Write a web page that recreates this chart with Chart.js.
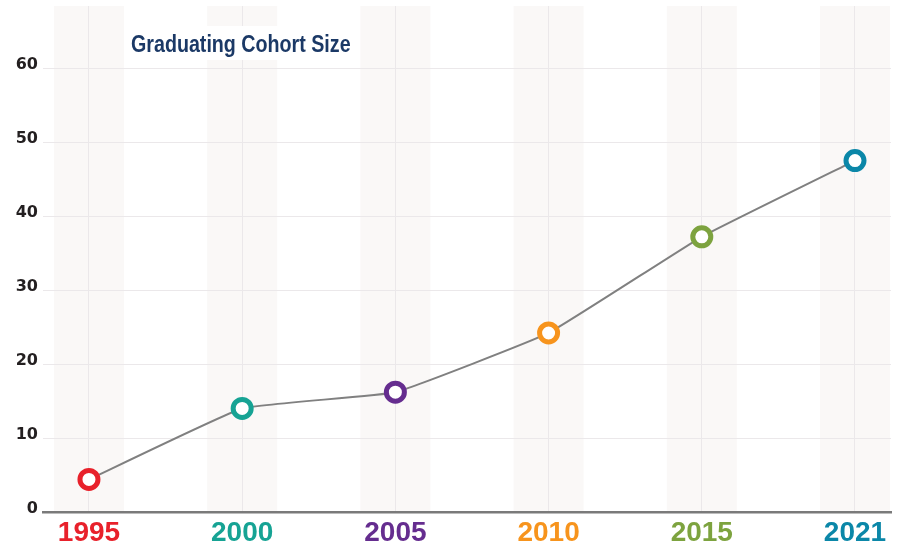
<!DOCTYPE html>
<html>
<head>
<meta charset="utf-8">
<script src="https://cdn.jsdelivr.net/npm/chart.js@4/dist/chart.umd.min.js"></script>
<style>
  html, body { margin: 0; padding: 0; background: #ffffff; overflow: hidden; }
  canvas { display: block; }
</style>
</head>
<body>
<canvas id="chart" width="898" height="546"></canvas>
<script>
// Chart data
const years = ["1995", "2000", "2005", "2010", "2015", "2021"];
const cohortSize = [4.4, 14.0, 16.2, 24.2, 37.2, 47.5];
const yearColors = ["#e8212b", "#16a394", "#652d8f", "#f7941d", "#7da33f", "#0b87a8"];
const yTicks = [0, 10, 20, 30, 40, 50, 60];
const chartTitle = "Graduating Cohort Size";

// Light vertical bands behind each year
const bandPlugin = {
  id: "bands",
  beforeDraw(chart) {
    const { ctx, chartArea, scales } = chart;
    ctx.save();
    ctx.fillStyle = "#faf8f7";
    for (let i = 0; i < years.length; i++) {
      const x = scales.x.getPixelForValue(i);
      ctx.fillRect(x - 35, chartArea.top, 70, chartArea.bottom - chartArea.top);
    }
    ctx.restore();
  }
};

// Title sits inside the plot on a white patch
// no narrow font installed, so squeeze the regular one a bit
const titlePlugin = {
  id: "innerTitle",
  afterDraw(chart) {
    const ctx = chart.ctx;
    ctx.save();
    ctx.font = "bold 23px 'Liberation Sans', Arial, sans-serif";
    const squeeze = 0.855;
    const w = ctx.measureText(chartTitle).width * squeeze;
    ctx.fillStyle = "#ffffff";
    ctx.fillRect(125, 26, w + 12, 34);
    ctx.translate(131, 52);
    ctx.scale(squeeze, 1);
    ctx.fillStyle = "#1b3966";
    ctx.textBaseline = "alphabetic";
    ctx.fillText(chartTitle, 0, 0);
    ctx.restore();
  }
};

const ctx = document.getElementById("chart").getContext("2d");
new Chart(ctx, {
  type: "line",
  data: {
    datasets: [{
      data: cohortSize.map((v, i) => ({ x: i, y: v })),
      borderColor: "#808080",
      borderWidth: 2,
      tension: 0.1,
      pointRadius: 9,
      pointHoverRadius: 9,
      pointBorderWidth: 5,
      pointBackgroundColor: "#ffffff",
      pointBorderColor: yearColors
    }]
  },
  options: {
    responsive: false,
    animation: false,
    devicePixelRatio: 1,
    layout: { autoPadding: false, padding: { top: 6, right: 7, left: 0, bottom: 0 } },
    plugins: {
      legend: { display: false },
      tooltip: { enabled: false }
    },
    scales: {
      x: {
        type: "linear",
        min: -0.3,
        max: 5.235,
        afterBuildTicks(scale) {
          scale.ticks = years.map((y, i) => ({ value: i }));
        },
        afterFit(scale) {
          scale.height = 34;
          scale.paddingLeft = 0;
          scale.paddingRight = 0;
        },
        grid: { color: "#ebe8ea", lineWidth: 1, drawTicks: false },
        border: { display: true, color: "#7a7a7a", width: 2.5 },
        ticks: {
          padding: 4,
          maxRotation: 0,
          autoSkip: false,
          callback: (v) => years[v],
          color: (c) => yearColors[c.index],
          font: { family: "'Liberation Sans', Arial, sans-serif", size: 28, weight: "bold" }
        }
      },
      y: {
        min: 0,
        max: 68.4,
        afterBuildTicks(scale) {
          scale.ticks = yTicks.map((v) => ({ value: v }));
        },
        afterFit(scale) {
          scale.width = 43;
          scale.paddingTop = 0;
          scale.paddingBottom = 0;
        },
        grid: { color: "#ebe8ea", lineWidth: 1, drawTicks: false },
        border: { display: false },
        ticks: {
          padding: 5,
          labelOffset: -3,
          color: "#231f20",
          font: { family: "'DejaVu Sans', sans-serif", size: 16, weight: "bold" }
        }
      }
    }
  },
  plugins: [bandPlugin, titlePlugin]
});
</script>
</body>
</html>
